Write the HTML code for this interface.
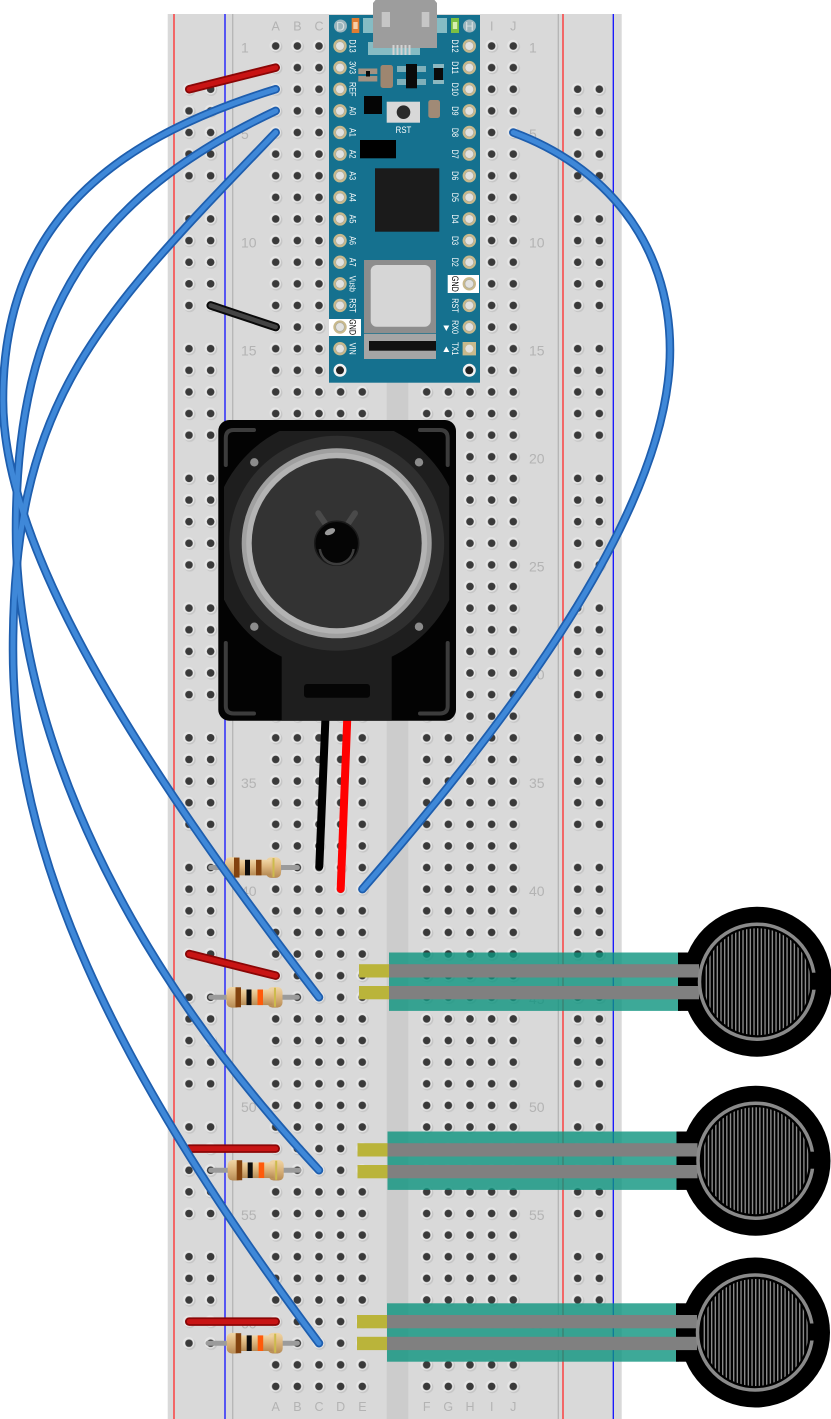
<!DOCTYPE html>
<html><head><meta charset="utf-8"><style>html,body{margin:0;padding:0;background:#fff}svg{display:block}</style></head>
<body>
<svg xmlns="http://www.w3.org/2000/svg" width="831" height="1419" viewBox="0 0 831 1419" font-family="'Liberation Sans', Arial, sans-serif">
<defs>
 <g id="h"><circle cx="0.7" cy="0.7" r="6" fill="#c6c6c6"/><circle cx="-0.4" cy="-0.4" r="5.7" fill="#e6e6e6"/><circle r="3.8" fill="#3a3a3a"/></g>
 <pattern id="pm1" patternUnits="userSpaceOnUse" x="264.875" y="35.19" width="21.65" height="21.62"><use href="#h" x="10.825" y="10.81"/></pattern>
 <pattern id="pm2" patternUnits="userSpaceOnUse" x="415.875" y="35.19" width="21.65" height="21.62"><use href="#h" x="10.825" y="10.81"/></pattern>
 <g id="railg">
  <use href="#h" x="10.825" y="10.81"/><use href="#h" x="32.475" y="10.81"/>
  <use href="#h" x="10.825" y="32.43"/><use href="#h" x="32.475" y="32.43"/>
  <use href="#h" x="10.825" y="54.05"/><use href="#h" x="32.475" y="54.05"/>
  <use href="#h" x="10.825" y="75.67"/><use href="#h" x="32.475" y="75.67"/>
  <use href="#h" x="10.825" y="97.29"/><use href="#h" x="32.475" y="97.29"/>
 </g>
 <pattern id="pl" patternUnits="userSpaceOnUse" x="178.175" y="78.43" width="43.3" height="129.72"><use href="#railg"/></pattern>
 <pattern id="pr" patternUnits="userSpaceOnUse" x="566.875" y="78.43" width="43.3" height="129.72"><use href="#railg"/></pattern>
 <g id="pin"><circle r="6.7" fill="#c8b98c"/><circle r="4.6" fill="#a9a9a0"/><circle r="4" fill="#e2e2e0"/></g>
 <linearGradient id="rg" x1="0" y1="0" x2="0" y2="1"><stop offset="0" stop-color="#f0d6a6"/><stop offset="0.45" stop-color="#ddb67e"/><stop offset="1" stop-color="#b68b55"/></linearGradient>
 <g id="rbody">
  <rect x="0" y="-10.3" width="15" height="20.6" rx="5" fill="url(#rg)"/>
  <rect x="41" y="-10.3" width="15" height="20.6" rx="5" fill="url(#rg)"/>
  <rect x="10" y="-7.8" width="36" height="15.6" fill="url(#rg)"/>
  <rect x="9" y="-10" width="5.5" height="20" fill="#83430f"/>
  <rect x="20" y="-7.8" width="5" height="15.6" fill="#0d0d0d"/>
  <rect x="47.5" y="-9.5" width="2" height="19" fill="#cdbb4c"/>
 </g>
 <pattern id="str" patternUnits="userSpaceOnUse" x="0" y="0" width="3.67" height="4"><rect x="0" y="0" width="1.4" height="4" fill="#8a8a8a"/></pattern>
 <g id="fsr">
  <rect x="-368" y="-29.2" width="292" height="58.4" fill="#0c947e" fill-opacity="0.8"/>
  <rect x="-79" y="-29.2" width="26" height="58.4" fill="#000"/>
  <circle r="75" fill="#000"/>
  <rect x="-398" y="-17.5" width="30.5" height="13.3" fill="#bab43a"/>
  <rect x="-398" y="4.3" width="30.5" height="13.3" fill="#bab43a"/>
  <rect x="-368" y="-17.5" width="310" height="13.3" fill="#808080"/>
  <rect x="-368" y="4.3" width="310" height="13.3" fill="#808080"/>
  <circle r="53.5" fill="url(#str)"/>
  <circle r="57.5" fill="none" stroke="#8a8a8a" stroke-width="3.5"/>
  <rect x="54" y="-9" width="8" height="17" fill="#000"/>
 </g>
 <clipPath id="spc"><rect x="224" y="431" width="225.3" height="290"/></clipPath>
 <path id="w1" d="M275.7,89.24 C103.7,141.8 3,230 3,400 C3,550 136,759 319,997.28"/>
 <path id="w2" d="M275.7,110.86 C94.8,196.4 16,310 16,530 C16,680 81,914.5 319,1170.24"/>
 <path id="w3" d="M275.7,132.48 C95.3,320.4 13,400 13,650 C13,850 109,1063 319,1343.2"/>
 <path id="w4" d="M513.3,132.48 C602,165 670,240 670,350 C670,500 527,700 362.4,889.18"/>
</defs>

<rect width="831" height="1419" fill="#fff"/>
<!-- breadboard -->
<rect x="167.7" y="14" width="454" height="1405" fill="#d9d9d9"/>
<rect x="386.7" y="14" width="21.6" height="1405" fill="#cccccc"/>
<g stroke-width="1.3">
 <line x1="174" y1="14" x2="174" y2="1419" stroke="#ff2a2a"/>
 <line x1="225" y1="14" x2="225" y2="1419" stroke="#1010ff"/>
 <line x1="563" y1="14" x2="563" y2="1419" stroke="#ff2a2a"/>
 <line x1="613.3" y1="14" x2="613.3" y2="1419" stroke="#1010ff"/>
 <line x1="232.7" y1="14" x2="232.7" y2="1419" stroke="#b5b5b5"/>
 <line x1="558.3" y1="14" x2="558.3" y2="1419" stroke="#b5b5b5"/>
</g>
<rect x="264.875" y="35.19" width="108.25" height="1362.06" fill="url(#pm1)"/>
<rect x="415.875" y="35.19" width="108.25" height="1362.06" fill="url(#pm2)"/>
<rect x="178.175" y="78.43" width="43.3" height="1297.2" fill="url(#pl)"/>
<rect x="566.875" y="78.43" width="43.3" height="1297.2" fill="url(#pr)"/>

<!-- labels -->
<g fill="#b3b3b3" font-size="14">
 <text x="241" y="52.7">1</text><text x="241" y="139.2">5</text><text x="241" y="247.3">10</text><text x="241" y="355.4">15</text>
 <text x="241" y="463.5">20</text><text x="241" y="571.6">25</text><text x="241" y="679.7">30</text><text x="241" y="787.8">35</text>
 <text x="241" y="895.9">40</text><text x="241" y="1004">45</text><text x="241" y="1112.1">50</text><text x="241" y="1220.2">55</text><text x="241" y="1328.3">60</text>
 <text x="529" y="52.7">1</text><text x="529" y="139.2">5</text><text x="529" y="247.3">10</text><text x="529" y="355.4">15</text>
 <text x="529" y="463.5">20</text><text x="529" y="571.6">25</text><text x="529" y="679.7">30</text><text x="529" y="787.8">35</text>
 <text x="529" y="895.9">40</text><text x="529" y="1004">45</text><text x="529" y="1112.1">50</text><text x="529" y="1220.2">55</text><text x="529" y="1328.3">60</text>
</g>
<g fill="#b3b3b3" font-size="12.5" text-anchor="middle">
 <text x="275.7" y="30.7">A</text><text x="297.4" y="30.7">B</text><text x="319" y="30.7">C</text><text x="491.7" y="30.7">I</text><text x="513.3" y="30.7">J</text>
 <text x="275.7" y="1411">A</text><text x="297.4" y="1411">B</text><text x="319" y="1411">C</text><text x="340.7" y="1411">D</text><text x="362.4" y="1411">E</text>
 <text x="426.7" y="1411">F</text><text x="448.3" y="1411">G</text><text x="470" y="1411">H</text><text x="491.7" y="1411">I</text><text x="513.3" y="1411">J</text>
</g>

<!-- Arduino Nano -->
<g>
 <rect x="329" y="15" width="151" height="367.7" fill="#15718f"/>
 <rect x="363" y="18" width="84" height="15" fill="#86bcc4"/>
 <rect x="368" y="42" width="52" height="13" fill="#86bcc4"/>
 <path d="M373,48 V3 L375.5,0 H434.5 L437,3 V48 Z" fill="#9d9d9d"/>
 <rect x="381.7" y="12" width="8.3" height="15" fill="#c6c6c6"/>
 <rect x="421.7" y="12" width="7.6" height="15" fill="#c6c6c6"/>
 <g fill="#d3d3d3"><rect x="392.5" y="45" width="2" height="10"/><rect x="396.5" y="45" width="2" height="10"/><rect x="400.5" y="45" width="2" height="10"/><rect x="404.5" y="45" width="2" height="10"/><rect x="408.5" y="45" width="2" height="10"/></g>
 <rect x="351.7" y="18" width="7.6" height="15" fill="#e07d32"/><rect x="353.3" y="22" width="4.4" height="7" fill="#f7d0a8"/>
 <rect x="451" y="18" width="8" height="15" fill="#7dc043"/><rect x="452.8" y="22" width="4.4" height="7" fill="#d8f0b0"/>
 <circle cx="340.5" cy="26" r="6.5" fill="#9cb6bd"/><text x="340.5" y="30.4" font-size="12" fill="#d8e0e2" text-anchor="middle">D</text>
 <circle cx="469.5" cy="26" r="6.5" fill="#9cb6bd"/><text x="469.5" y="30.4" font-size="12" fill="#d8e0e2" text-anchor="middle">H</text>
 <!-- small parts -->
 <rect x="358.3" y="68.5" width="19" height="5.5" fill="#a39282"/><rect x="358.3" y="76" width="19" height="5.5" fill="#a39282"/>
 <rect x="366" y="71" width="4" height="5.5" fill="#0a0a0a"/>
 <rect x="380.5" y="65" width="12.5" height="23" rx="2.5" fill="#9e8670"/>
 <rect x="397" y="66" width="29" height="6" fill="#7fb0ba"/><rect x="397" y="79" width="29" height="6" fill="#7fb0ba"/>
 <rect x="406" y="64" width="11" height="24.3" fill="#0a0a0a"/>
 <rect x="433" y="64" width="11" height="4" fill="#8cb8c0"/><rect x="433" y="80" width="11" height="4" fill="#8cb8c0"/>
 <rect x="434" y="68" width="9" height="12" fill="#0a0a0a"/>
 <rect x="364" y="96" width="18" height="18" fill="#050505"/>
 <rect x="386.7" y="101.7" width="33.3" height="21" fill="#d8d8d8"/>
 <circle cx="403.5" cy="112.2" r="6.8" fill="#2b2b2b"/>
 <text transform="translate(403.5,133) scale(0.87,1)" font-size="9" fill="#fff" text-anchor="middle">RST</text>
 <rect x="428.3" y="100" width="11.7" height="18" rx="2.5" fill="#a08a76"/>
 <rect x="360" y="140" width="36" height="18.3" fill="#000"/>
 <rect x="375" y="168.3" width="64.3" height="63.4" fill="#1b1b1b"/>
 <rect x="364" y="260" width="72" height="73.3" fill="#8d8d8d"/>
 <rect x="370.7" y="265" width="60" height="61.7" rx="6" fill="#d6d6d6"/>
 <rect x="364" y="334" width="72" height="25" fill="#a5a5a5"/>
 <rect x="369" y="341" width="67" height="9.7" fill="#111"/>
 <!-- GND white boxes -->
 <rect x="329" y="319" width="32" height="17" fill="#fff"/>
 <rect x="447.7" y="275" width="31.3" height="18" fill="#fff"/>
 <!-- pins -->
 <g>
  <use href="#pin" x="340" y="46"/><use href="#pin" x="340" y="67.62"/><use href="#pin" x="340" y="89.24"/><use href="#pin" x="340" y="110.86"/><use href="#pin" x="340" y="132.48"/>
  <use href="#pin" x="340" y="154.1"/><use href="#pin" x="340" y="175.72"/><use href="#pin" x="340" y="197.34"/><use href="#pin" x="340" y="218.96"/><use href="#pin" x="340" y="240.58"/>
  <use href="#pin" x="340" y="262.2"/><use href="#pin" x="340" y="283.82"/><use href="#pin" x="340" y="305.44"/><use href="#pin" x="340" y="327.06"/><use href="#pin" x="340" y="348.68"/>
  <use href="#pin" x="469.3" y="46"/><use href="#pin" x="469.3" y="67.62"/><use href="#pin" x="469.3" y="89.24"/><use href="#pin" x="469.3" y="110.86"/><use href="#pin" x="469.3" y="132.48"/>
  <use href="#pin" x="469.3" y="154.1"/><use href="#pin" x="469.3" y="175.72"/><use href="#pin" x="469.3" y="197.34"/><use href="#pin" x="469.3" y="218.96"/><use href="#pin" x="469.3" y="240.58"/>
  <use href="#pin" x="469.3" y="262.2"/><use href="#pin" x="469.3" y="283.82"/><use href="#pin" x="469.3" y="305.44"/><use href="#pin" x="469.3" y="327.06"/>
  <rect x="462.6" y="342" width="13.4" height="13.4" fill="#c8b98c"/><circle cx="469.3" cy="348.68" r="4" fill="#e2e2e0"/>
 </g>
 <circle cx="340" cy="370.3" r="6.5" fill="#f2f2f2"/><circle cx="340" cy="370.3" r="4" fill="#222"/>
 <circle cx="469.3" cy="370.3" r="6.5" fill="#f2f2f2"/><circle cx="469.3" cy="370.3" r="4" fill="#222"/>
 <path d="M443.3,325.5 H449.3 L446.3,331 Z" fill="#fff"/>
 <path d="M443.3,352 H449.3 L446.3,346.5 Z" fill="#fff"/>
 <!-- pin labels -->
 <g font-size="9" fill="#fff" text-anchor="middle">
  <text transform="translate(352.7,46) rotate(90) scale(0.8,1)" dy="3.2">D13</text>
  <text transform="translate(352.7,67.62) rotate(90) scale(0.8,1)" dy="3.2">3V3</text>
  <text transform="translate(352.7,89.24) rotate(90) scale(0.8,1)" dy="3.2">REF</text>
  <text transform="translate(352.7,110.86) rotate(90) scale(0.8,1)" dy="3.2">A0</text>
  <text transform="translate(352.7,132.48) rotate(90) scale(0.8,1)" dy="3.2">A1</text>
  <text transform="translate(352.7,154.1) rotate(90) scale(0.8,1)" dy="3.2">A2</text>
  <text transform="translate(352.7,175.72) rotate(90) scale(0.8,1)" dy="3.2">A3</text>
  <text transform="translate(352.7,197.34) rotate(90) scale(0.8,1)" dy="3.2">A4</text>
  <text transform="translate(352.7,218.96) rotate(90) scale(0.8,1)" dy="3.2">A5</text>
  <text transform="translate(352.7,240.58) rotate(90) scale(0.8,1)" dy="3.2">A6</text>
  <text transform="translate(352.7,262.2) rotate(90) scale(0.8,1)" dy="3.2">A7</text>
  <text transform="translate(352.7,283.82) rotate(90) scale(0.8,1)" dy="3.2">Vusb</text>
  <text transform="translate(352.7,305.44) rotate(90) scale(0.8,1)" dy="3.2">RST</text>
  <text transform="translate(352.7,327.06) rotate(90) scale(0.8,1)" dy="3.2" fill="#000">GND</text>
  <text transform="translate(352.7,348.68) rotate(90) scale(0.8,1)" dy="3.2">VIN</text>
  <text transform="translate(455.3,46) rotate(90) scale(0.8,1)" dy="3.2">D12</text>
  <text transform="translate(455.3,67.62) rotate(90) scale(0.8,1)" dy="3.2">D11</text>
  <text transform="translate(455.3,89.24) rotate(90) scale(0.8,1)" dy="3.2">D10</text>
  <text transform="translate(455.3,110.86) rotate(90) scale(0.8,1)" dy="3.2">D9</text>
  <text transform="translate(455.3,132.48) rotate(90) scale(0.8,1)" dy="3.2">D8</text>
  <text transform="translate(455.3,154.1) rotate(90) scale(0.8,1)" dy="3.2">D7</text>
  <text transform="translate(455.3,175.72) rotate(90) scale(0.8,1)" dy="3.2">D6</text>
  <text transform="translate(455.3,197.34) rotate(90) scale(0.8,1)" dy="3.2">D5</text>
  <text transform="translate(455.3,218.96) rotate(90) scale(0.8,1)" dy="3.2">D4</text>
  <text transform="translate(455.3,240.58) rotate(90) scale(0.8,1)" dy="3.2">D3</text>
  <text transform="translate(455.3,262.2) rotate(90) scale(0.8,1)" dy="3.2">D2</text>
  <text transform="translate(455.3,283.82) rotate(90) scale(0.8,1)" dy="3.2" fill="#000">GND</text>
  <text transform="translate(455.3,305.44) rotate(90) scale(0.8,1)" dy="3.2">RST</text>
  <text transform="translate(455.3,327.06) rotate(90) scale(0.8,1)" dy="3.2">RX0</text>
  <text transform="translate(455.3,348.68) rotate(90) scale(0.8,1)" dy="3.2">TX1</text>
 </g>
</g>

<!-- speaker legs -->
<line x1="325.7" y1="712" x2="319.3" y2="866.5" stroke="#000" stroke-width="8" stroke-linecap="round"/>
<line x1="347.5" y1="712" x2="340.7" y2="889" stroke="#ff0000" stroke-width="8" stroke-linecap="round"/>

<!-- speaker -->
<g>
 <rect x="218.3" y="420" width="237.7" height="300.7" rx="11" fill="#030303"/>
 <circle cx="336.7" cy="543.3" r="126" fill="#1e1e1e" clip-path="url(#spc)"/>
 <rect x="281.7" y="600" width="110" height="120.7" fill="#1e1e1e"/>
 <circle cx="336.7" cy="543.3" r="107.5" fill="#2f2f2f"/>
 <circle cx="336.7" cy="543.3" r="95" fill="#a0a0a0"/>
 <circle cx="336.7" cy="543.3" r="90.5" fill="#b3b3b3"/>
 <circle cx="336.7" cy="543.3" r="85" fill="#333"/>
 <g fill="none" stroke="#3c3c3c" stroke-width="4" stroke-linecap="round">
  <path d="M225.8,465 V438 Q225.8,430 233.8,430 H254"/>
  <path d="M447.7,465 V438 Q447.7,430 439.7,430 H420"/>
  <path d="M225.8,643 V706 Q225.8,713.5 233.8,713.5 H254"/>
  <path d="M447.7,643 V706 Q447.7,713.5 439.7,713.5 H420"/>
 </g>
 <g fill="#8c8c8c"><circle cx="254.3" cy="462.3" r="4.2"/><circle cx="419" cy="462.3" r="4.2"/><circle cx="254.3" cy="626.7" r="4.2"/><circle cx="419" cy="626.7" r="4.2"/></g>
 <rect x="304" y="684" width="66" height="13.7" rx="3" fill="#050505"/>
 <g stroke="#4a4a4a" stroke-width="6" stroke-linecap="round"><line x1="318.3" y1="513.3" x2="325.5" y2="524"/><line x1="355" y1="513.3" x2="347.8" y2="524"/></g>
 <circle cx="336.7" cy="543.3" r="22" fill="#050505" stroke="#1a1a1a" stroke-width="1.5"/>
 <path d="M319.8,549 A17,17 0 0 0 353.6,549" fill="none" stroke="#3d3d3d" stroke-width="2.5"/>
 <ellipse cx="330" cy="531.7" rx="5.5" ry="3" transform="rotate(-25 330 531.7)" fill="#9a9a9a"/>
</g>

<!-- resistors -->
<g stroke="#9b9b9b" stroke-width="5" stroke-linecap="round">
 <line x1="210.7" y1="867.56" x2="297.4" y2="867.56"/>
 <line x1="210.7" y1="997.28" x2="297.4" y2="997.28"/>
 <line x1="210.7" y1="1170.24" x2="299" y2="1170.24"/>
 <line x1="208" y1="1343.2" x2="297.4" y2="1343.2"/>
</g>
<g transform="translate(225,867.56)"><use href="#rbody"/><rect x="31" y="-7.8" width="5.5" height="15.6" fill="#83430f"/></g>
<g transform="translate(226.5,997.28)"><use href="#rbody"/><rect x="31" y="-7.8" width="5.5" height="15.6" fill="#ff5a0a"/></g>
<g transform="translate(227.7,1170.24)"><use href="#rbody"/><rect x="31" y="-7.8" width="5.5" height="15.6" fill="#ff5a0a"/></g>
<g transform="translate(226.7,1343.2)"><use href="#rbody"/><rect x="31" y="-7.8" width="5.5" height="15.6" fill="#ff5a0a"/></g>

<!-- force sensors -->
<use href="#fsr" transform="translate(757,981.7)"/>
<use href="#fsr" transform="translate(755.5,1160.7)"/>
<use href="#fsr" transform="translate(755,1332.5)"/>

<!-- jumpers -->
<g stroke-linecap="round" fill="none">
 <g stroke="#8a0606" stroke-width="8.5">
  <line x1="189.3" y1="89.24" x2="275.7" y2="67.62"/>
  <line x1="189.3" y1="954.04" x2="275.7" y2="975.66"/>
  <line x1="189.3" y1="1148.62" x2="275.7" y2="1148.62"/>
  <line x1="189.3" y1="1321.58" x2="275.7" y2="1321.58"/>
 </g>
 <g stroke="#c81414" stroke-width="5">
  <line x1="189.3" y1="89.24" x2="275.7" y2="67.62"/>
  <line x1="189.3" y1="954.04" x2="275.7" y2="975.66"/>
  <line x1="189.3" y1="1148.62" x2="275.7" y2="1148.62"/>
  <line x1="189.3" y1="1321.58" x2="275.7" y2="1321.58"/>
 </g>
 <line x1="210.7" y1="305.44" x2="275.7" y2="327.06" stroke="#0a0a0a" stroke-width="8.5"/>
 <line x1="210.7" y1="305.44" x2="275.7" y2="327.06" stroke="#444" stroke-width="4.5"/>
</g>

<!-- blue wires -->
<g fill="none" stroke-linecap="round">
 <g stroke="#1e5eae" stroke-width="8.5">
  <use href="#w1"/><use href="#w2"/><use href="#w3"/><use href="#w4"/>
 </g>
 <g stroke="#3f88d8" stroke-width="5">
  <use href="#w1"/><use href="#w2"/><use href="#w3"/><use href="#w4"/>
 </g>
</g>
</svg>
</body></html>
